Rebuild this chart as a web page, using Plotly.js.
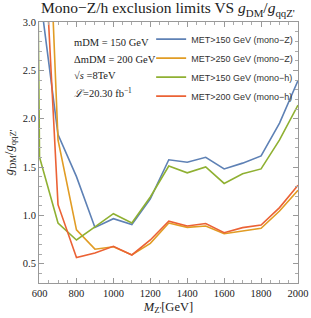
<!DOCTYPE html>
<html><head><meta charset="utf-8">
<script src="https://cdn.plot.ly/plotly-3.0.1.min.js"></script>
<style>html,body{margin:0;padding:0;background:#fff}#chart{width:311px;height:318px}</style>
</head><body><div id="chart"></div>
<script>
// Z' mass points (GeV)
const masses = [500, 600, 700, 800, 900, 1000, 1100, 1200, 1300, 1400, 1500, 1600, 1700, 1800, 1900, 2000];
// g_DM/g_qqZ' limits
const monoZ150 = [null, 3.32, 1.835, 1.40, 0.875, 0.965, 0.905, 1.17, 1.575, 1.55, 1.60, 1.48, 1.54, 1.615, 1.955, 2.395];
const monoZ250 = [null, 6.5, 1.78, 0.85, 0.65, 0.675, 0.59, 0.71, 0.92, 0.876, 0.89, 0.81, 0.838, 0.866, 1.045, 1.26];
const monoH150 = [21.6, 1.60, 0.92, 0.745, 0.88, 1.017, 0.92, 1.19, 1.51, 1.44, 1.50, 1.33, 1.43, 1.48, 1.78, 2.14];
const monoH200 = [null, 4.8, 1.11, 0.564, 0.61, 0.68, 0.59, 0.745, 0.94, 0.89, 0.915, 0.82, 0.873, 0.90, 1.08, 1.31];
const seriesNames = ["MET>150 GeV (mono\u2212Z)", "MET>250 GeV (mono\u2212Z)", "MET>150 GeV (mono\u2212h)", "MET>200 GeV (mono\u2212h)"];
const seriesColors = ["#5E81B5", "#E19C24", "#8FB032", "#EB6235"];
const infoLines = ["mDM = 150 GeV", "\u0394mDM = 200 GeV", "\u221A<i>s</i> =8TeV", "<i>\u2112</i>=20.30 fb<sup>\u22121</sup>"];

const allY = [monoZ150, monoZ250, monoH150, monoH200];
const traces = allY.map((ys, i) => ({
  x: masses, y: ys, type: 'scatter', mode: 'lines', name: seriesNames[i],
  line: {color: seriesColors[i], width: 1.6}, connectgaps: false
}));

const serif = 'Liberation Serif, Times New Roman, serif';
const axisCommon = {
  showgrid: false, zeroline: false, showline: true, linecolor: '#999', linewidth: 1,
  mirror: 'ticks', ticks: 'inside', ticklen: 5, tickcolor: '#999', tickwidth: 1,
  tickfont: {family: serif, size: 10.5, color: '#222'}
};
const layout = {
  width: 311, height: 318,
  margin: {l: 39, r: 13, t: 22, b: 35},
  paper_bgcolor: '#fff', plot_bgcolor: '#fff',
  title: {text: "Mono\u2212Z/h exclusion limits VS <i>g</i><sub>DM</sub>/<i>g</i><sub>qqZ'</sub>",
          font: {family: serif, size: 15.5, color: '#222'}, x: 0.54, xanchor: 'center', y: 0.975, yanchor: 'middle'},
  xaxis: Object.assign({}, axisCommon, {
    range: [597, 2000], tickvals: [600, 800, 1000, 1200, 1400, 1600, 1800, 2000],
    minor: {dtick: 50, tick0: 600, ticks: 'inside', ticklen: 3, tickcolor: '#aaa'},
    title: {text: "<i>M</i><sub>Z'</sub>[GeV]", font: {family: serif, size: 12.5, color: '#222'}, standoff: 4}
  }),
  yaxis: Object.assign({}, axisCommon, {
    range: [0.3, 3.0], tickvals: [0.5, 1.0, 1.5, 2.0, 2.5, 3.0], ticktext: ['0.5', '1.0', '1.5', '2.0', '2.5', '3.0'],
    minor: {dtick: 0.1, tick0: 0, ticks: 'inside', ticklen: 3, tickcolor: '#aaa'},
    title: {text: "<i>g</i><sub>DM</sub>/<i>g</i><sub>qqZ'</sub>", font: {family: serif, size: 12.5, color: '#222'}, standoff: 6}
  }),
  legend: {x: 0.433, y: 0.99, xanchor: 'left', yanchor: 'top', bgcolor: 'rgba(0,0,0,0)',
           font: {family: 'Liberation Sans, Arial, sans-serif', size: 9, color: '#333'},
           itemwidth: 30, tracegroupgap: 0},
  annotations: infoLines.map((t, i) => ({
    text: t, xref: 'paper', yref: 'paper', x: 0.127, y: 0.92 - i * 0.063, xanchor: 'left', yanchor: 'middle',
    showarrow: false, font: {family: serif, size: 10.5, color: '#222'}
  }))
};
Plotly.newPlot('chart', traces, layout, {displayModeBar: false, staticPlot: true});
</script></body></html>
